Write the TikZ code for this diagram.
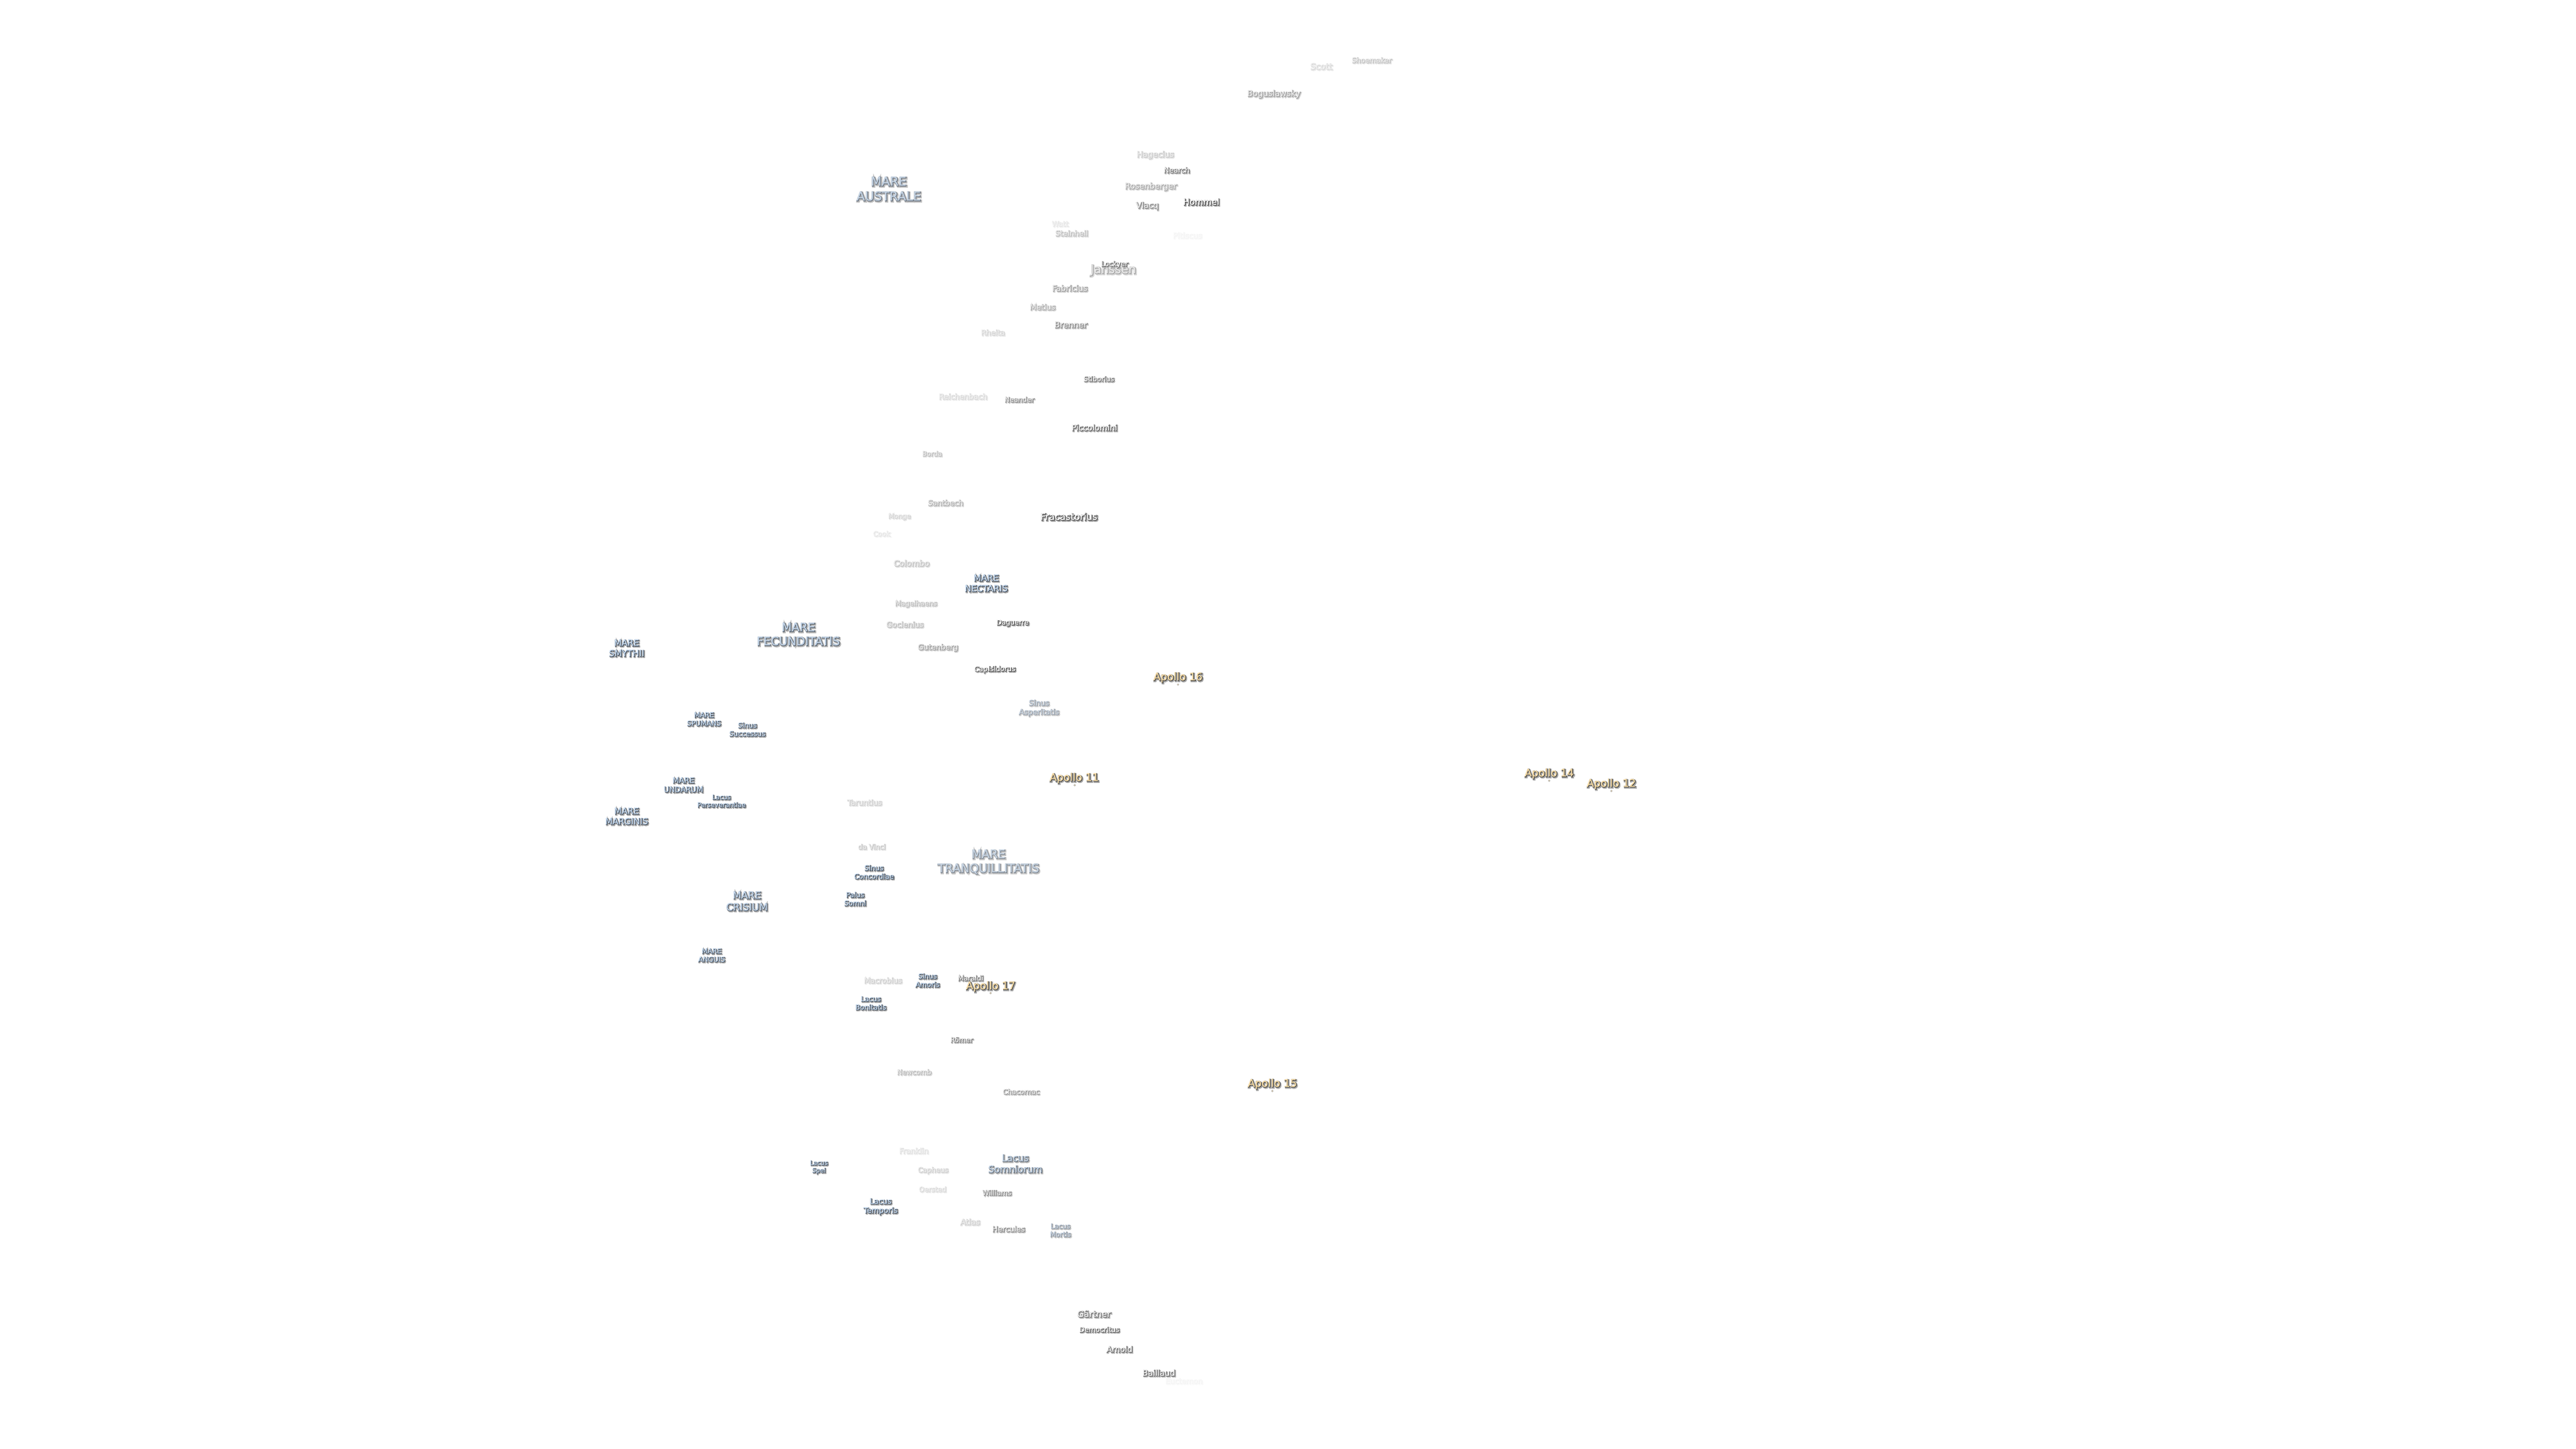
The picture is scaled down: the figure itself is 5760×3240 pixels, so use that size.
\documentclass[tikz,border=0pt]{standalone}
\usepackage{fontspec}
\newfontfamily\labplain{DejaVu Sans}
\newfontfamily\labfillface{DejaVu Sans}[FakeBold=1]
\newfontfamily\labdark{DejaVu Sans}[FakeBold=7]
\newfontfamily\labsoft{DejaVu Sans}[FakeBold=16]
\definecolor{craterfill}{HTML}{FFFFFF}
\definecolor{craterline}{HTML}{3A3A3A}
\definecolor{marefill}{HTML}{C6DAF0}
\definecolor{mareline}{HTML}{35414F}
\definecolor{apollofill}{HTML}{F7DCA6}
\definecolor{apolloline}{HTML}{3F3F3F}
\definecolor{softshade}{HTML}{A6A6A6}
\tikzset{lablayer/.style={inner sep=0pt,outer sep=0pt,align=center,anchor=center},
  sitedot/.style={circle,inner sep=0pt,minimum size=1pt,fill=apollofill,draw=softshade,line width=0.2pt}}
\newbox\labbox
% kind, name, cx, cy, width in px, strength in percent, text
\newcommand{\lab}[7]{%
  \setbox\labbox=\hbox{\pgfinterruptpicture\labplain\fontsize{10}{12}\selectfont\begin{tabular}{@{}c@{}}#7\end{tabular}\endpgfinterruptpicture}%
  \edef\labnat{\the\wd\labbox}%
  \pgfmathsetmacro\fs{10*(#5-3)*0.25/\labnat}%
  \pgfmathsetmacro\ls{1.2*\fs}%
  \colorlet{layersoft}{softshade!#6!white}%
  \colorlet{layerfill}{#1fill!#6!layersoft}%
  \colorlet{layerline}{#1line!#6!white}%
  \node[lablayer,name=#2-s,text=layersoft,font={\labsoft\fontsize{\fs}{\ls}\selectfont}] at (#3+2.2,#4+2.4) {#7};
  \node[lablayer,name=#2-o,text=layerline,font={\labdark\fontsize{\fs}{\ls}\selectfont}] at (#3+0.8,#4+0.8) {#7};
  \node[lablayer,name=#2,text=layerfill,font={\labfillface\fontsize{\fs}{\ls}\selectfont}] at (#3,#4) {#7};
}
\begin{document}
\begin{tikzpicture}[x=0.25pt,y=-0.25pt]
\useasboundingbox (0,0) rectangle (5760,3240);
% craters, south
\lab{crater}{scott}{2954}{148}{52}{22}{Scott}
\lab{crater}{shoemaker}{3067}{134}{92}{35}{Shoemaker}
\lab{crater}{boguslawsky}{2848}{210}{122}{55}{Boguslawsky}
\lab{crater}{hageclus}{2583}{346}{86}{30}{Hagecius}
\lab{crater}{nearch}{2631}{380}{61}{80}{Nearch}
\lab{crater}{rosenberger}{2573}{417}{119}{50}{Rosenberger}
\lab{crater}{vlacq}{2565}{460}{53}{70}{Vlacq}
\lab{crater}{hommel}{2686}{451}{84}{100}{Hommel}
\lab{crater}{watt}{2370}{500}{40}{15}{Watt}
\lab{crater}{steinheil}{2396}{521}{76}{38}{Steinheil}
\lab{crater}{pitiscus}{2655}{526}{68}{6}{Pitiscus}
\lab{crater}{janssen}{2489}{604}{105}{50}{Janssen}
\lab{crater}{lockyer}{2492}{591}{63}{85}{Lockyer}
\lab{crater}{fabricius}{2392}{644}{82}{55}{Fabricius}
\lab{crater}{metius}{2331}{686}{60}{48}{Metius}
\lab{crater}{brenner}{2394}{726}{76}{68}{Brenner}
\lab{crater}{rheita}{2220}{743}{56}{25}{Rheita}
\lab{crater}{stiborius}{2457}{847}{71}{80}{Stiborius}
\lab{crater}{reichenbach}{2153}{886}{111}{22}{Reichenbach}
\lab{crater}{neander}{2279}{893}{69}{68}{Neander}
\lab{crater}{piccolomini}{2447}{956}{105}{90}{Piccolomini}
\lab{crater}{borda}{2084}{1014}{47}{38}{Borda}
\lab{crater}{santbech}{2114}{1124}{82}{45}{Santbech}
\lab{crater}{monge}{2011}{1155}{53}{25}{Monge}
\lab{crater}{cook}{1971}{1193}{41}{15}{Cook}
\lab{crater}{fracastorius}{2390}{1155}{130}{100}{Fracastorius}
\lab{crater}{colombo}{2038}{1259}{83}{35}{Colombo}
\lab{crater}{magelhaens}{2048}{1350}{97}{38}{Magelhaens}
\lab{crater}{goclenius}{2023}{1396}{86}{38}{Goclenius}
\lab{crater}{daguerre}{2264}{1393}{75}{100}{Daguerre}
\lab{crater}{gutenberg}{2097}{1448}{93}{55}{Gutenberg}
\lab{crater}{capella}{2207}{1497}{61}{90}{Capella}
\lab{crater}{isidorus}{2240}{1495}{64}{100}{Isidorus}
\lab{crater}{taruntius}{1933}{1794}{80}{28}{Taruntius}
\lab{crater}{davinci}{1949}{1893}{64}{32}{da Vinci}
\lab{crater}{macrobius}{1974}{2192}{88}{28}{Macrobius}
\lab{crater}{maraldi}{2170}{2187}{60}{85}{Maraldi}
\lab{crater}{romer}{2150}{2325}{53}{75}{Römer}
\lab{crater}{newcomb}{2044}{2397}{80}{40}{Newcomb}
\lab{crater}{chacornac}{2283}{2441}{85}{60}{Chacornac}
\lab{crater}{franklin}{2043}{2573}{68}{18}{Franklin}
\lab{crater}{capheus}{2086}{2617}{71}{28}{Capheus}
\lab{crater}{oersted}{2085}{2659}{64}{22}{Oersted}
\lab{crater}{williams}{2229}{2667}{68}{68}{Williams}
\lab{crater}{atlas}{2169}{2732}{47}{28}{Atlas}
\lab{crater}{hercules}{2255}{2748}{76}{68}{Hercules}
\lab{crater}{gartner}{2446}{2938}{78}{80}{Gärtner}
\lab{crater}{democritus}{2458}{2973}{93}{90}{Democritus}
\lab{crater}{arnold}{2503}{3017}{61}{85}{Arnold}
\lab{crater}{baillaud}{2591}{3070}{76}{85}{Baillaud}
\lab{crater}{euctemon}{2647}{3088}{86}{6}{Euctemon}
% seas, lakes, bays
\lab{mare}{australe}{1987}{422}{147}{75}{MARE\\AUSTRALE}
\lab{mare}{nectaris}{2205}{1304}{99}{100}{MARE\\NECTARIS}
\lab{mare}{fecunditatis}{1785}{1418}{189}{85}{MARE\\FECUNDITATIS}
\lab{mare}{smythii}{1401}{1449}{82}{100}{MARE\\SMYTHII}
\lab{mare}{spumans}{1574}{1608}{79}{100}{MARE\\SPUMANS}
\lab{mare}{successus}{1671}{1631}{84}{95}{Sinus\\Successus}
\lab{mare}{undarum}{1528}{1755}{91}{100}{MARE\\UNDARUM}
\lab{mare}{perseverantiae}{1613}{1791}{111}{100}{Lacus\\Perseverantiae}
\lab{mare}{marginis}{1401}{1825}{99}{100}{MARE\\MARGINIS}
\lab{mare}{concordiae}{1954}{1950}{92}{100}{Sinus\\Concordiae}
\lab{mare}{asperitatis}{2323}{1583}{93}{55}{Sinus\\Asperitatis}
\lab{mare}{tranquillitatis}{2210}{1927}{230}{65}{MARE\\TRANQUILLITATIS}
\lab{mare}{somni}{1912}{2010}{52}{100}{Palus\\Somni}
\lab{mare}{crisium}{1670}{2015}{96}{90}{MARE\\CRISIUM}
\lab{mare}{anguis}{1591}{2136}{63}{100}{MARE\\ANGUIS}
\lab{mare}{amoris}{2074}{2192}{57}{100}{Sinus\\Amoris}
\lab{mare}{bonitatis}{1947}{2243}{72}{100}{Lacus\\Bonitatis}
\lab{mare}{spei}{1831}{2610}{43}{100}{Lacus\\Spei}
\lab{mare}{somniorum}{2270}{2602}{124}{80}{Lacus\\Somniorum}
\lab{mare}{temporis}{1969}{2698}{79}{100}{Lacus\\Temporis}
\lab{mare}{mortis}{2371}{2751}{50}{60}{Lacus\\Mortis}
% landing sites
\lab{apollo}{apollo16}{2634}{1515}{113}{100}{Apollo 16}
\lab{apollo}{apollo11}{2402}{1740}{113}{100}{Apollo 11}
\lab{apollo}{apollo17}{2215}{2206}{113}{100}{Apollo 17}
\lab{apollo}{apollo15}{2845}{2424}{113}{100}{Apollo 15}
\lab{apollo}{apollo14}{3464}{1730}{113}{100}{Apollo 14}
\lab{apollo}{apollo12}{3603}{1753}{113}{100}{Apollo 12}
\node[sitedot,name=dot16] at (2634,1531) {};
\node[sitedot,name=dot11] at (2403,1756) {};
\node[sitedot,name=dot17] at (2215,2221) {};
\node[sitedot,name=dot15] at (2845,2440) {};
\node[sitedot,name=dot14] at (3464,1746) {};
\node[sitedot,name=dot12] at (3603,1769) {};
\end{tikzpicture}
\end{document}
